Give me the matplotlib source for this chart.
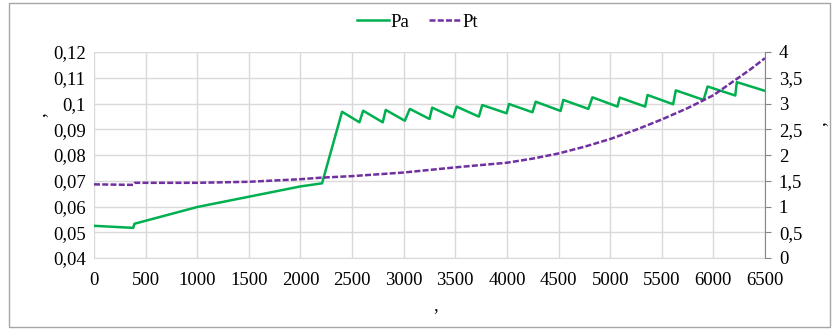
import matplotlib.pyplot as plt
from matplotlib.patches import Rectangle
from matplotlib.ticker import FuncFormatter

# Pa (left axis)
pa_x = [0, 380, 392, 1000, 2000, 2209, 2403, 2571, 2607, 2797, 2826, 3011,
        3059, 3250, 3276, 3480, 3512, 3728, 3761, 3997, 4020, 4247, 4279,
        4520, 4546, 4789, 4828, 5071, 5093, 5339, 5362, 5610, 5636, 5905,
        5944, 6212, 6227, 6500]
pa_y = [0.0525, 0.0517, 0.0533, 0.0598, 0.0678, 0.0690, 0.0968, 0.0927,
        0.0972, 0.0927, 0.0975, 0.0933, 0.0979, 0.0940, 0.0984, 0.0946,
        0.0988, 0.0949, 0.0994, 0.0962, 0.0998, 0.0966, 0.1007, 0.0971,
        0.1014, 0.0979, 0.1024, 0.0988, 0.1023, 0.0988, 0.1033, 0.0997,
        0.1051, 0.1014, 0.1066, 0.1031, 0.1083, 0.1049]

# Pt (right axis)
pt_x = [0, 380, 395, 1000, 1500, 2000, 2200, 2500, 3000, 3500, 4000, 4250,
        4500, 4750, 5000, 5250, 5500, 5750, 6000, 6200, 6350, 6500]
pt_y = [1.43, 1.42, 1.46, 1.46, 1.48, 1.53, 1.56, 1.59, 1.66, 1.76, 1.85,
        1.93, 2.03, 2.16, 2.31, 2.49, 2.69, 2.91, 3.16, 3.44, 3.65, 3.88]

x_ticks = list(range(0, 6501, 500))
left_ticks = [0.04, 0.05, 0.06, 0.07, 0.08, 0.09, 0.10, 0.11, 0.12]
right_ticks = [0, 0.5, 1, 1.5, 2, 2.5, 3, 3.5, 4]


def comma_fmt(v, pos):
    s = f"{v:.4f}".rstrip("0").rstrip(".")
    return s.replace(".", ",")


plt.rcParams['font.family'] = ['Liberation Serif', 'DejaVu Serif']
FS = 13.5
green = "#00B050"
purple = "#7030A0"
grid_c = "#D9D9D9"
axis_c = "#868686"

fig = plt.figure(figsize=(8.35, 3.29), dpi=100)
fig.patches.append(Rectangle((9 / 835, 2 / 329), 821 / 835, 324 / 329,
                             transform=fig.transFigure, fill=False,
                             edgecolor="#A6A6A6", lw=1.0))

ax = fig.add_axes([94 / 835, 1 - 258 / 329, 671 / 835, 206 / 329])
ax2 = ax.twinx()

l1, = ax.plot(pa_x, pa_y, color=green, lw=1.8, label="Pa")
l2, = ax2.plot(pt_x, pt_y, color=purple, lw=1.8, linestyle=(0, (2.4, 0.9)),
               label="Pt")

ax.set_xlim(0, 6500)
ax.set_ylim(0.04, 0.12)
ax2.set_ylim(0, 4)
ax.set_xticks(x_ticks)
ax.set_yticks(left_ticks)
ax2.set_yticks(right_ticks)
ax.yaxis.set_major_formatter(FuncFormatter(comma_fmt))
ax2.yaxis.set_major_formatter(FuncFormatter(comma_fmt))

ax.grid(True, color=grid_c, lw=1.0)
ax.set_axisbelow(True)
for sp in ["top", "right", "left"]:
    ax.spines[sp].set_visible(False)
for sp in ["top", "left", "bottom"]:
    ax2.spines[sp].set_visible(False)
ax.spines["bottom"].set_color(grid_c)
ax2.spines["right"].set_color(axis_c)

ax.tick_params(axis="both", length=0, labelsize=FS, colors="black", pad=6)
ax.tick_params(axis="x", pad=10)
ax2.tick_params(axis="y", length=4, direction="out", color=axis_c,
                labelsize=FS, pad=6)

# axis titles (just a comma each in the source chart)
fig.text(436 / 835, 1 - 306 / 329, ",", fontsize=FS, ha="center", va="center")
fig.text(40 / 835, 1 - 115 / 329, ",", fontsize=FS, ha="center", va="center",
         rotation=90)
fig.text(820 / 835, 1 - 124 / 329, ",", fontsize=FS, ha="center", va="center",
         rotation=90)

fig.legend(handles=[l1, l2], loc="center", bbox_to_anchor=(0.5, 1 - 22 / 329),
           ncol=2, frameon=False, fontsize=FS, handlelength=1.7,
           handletextpad=0.1, columnspacing=1.0)

fig.savefig("out.png", dpi=100)
